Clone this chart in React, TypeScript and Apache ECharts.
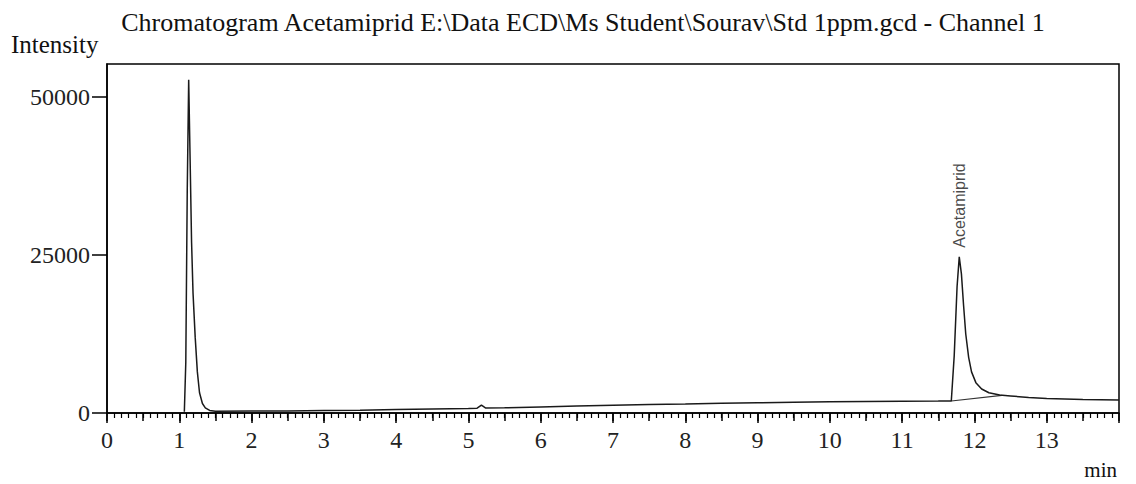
import React, { useEffect, useRef } from "react";
import * as echarts from "echarts";

const titleText = "Chromatogram Acetamiprid E:\\Data ECD\\Ms Student\\Sourav\\Std 1ppm.gcd - Channel 1";
const yAxisName = "Intensity";
const xAxisName = "min";

const timeMin = [
  1.07, 1.09, 1.11, 1.13, 1.15, 1.17, 1.19, 1.22, 1.25, 1.28, 1.32, 1.36, 1.42, 1.5,
  2.0, 2.5, 3.0, 3.5, 4.0, 4.5, 5.0, 5.12, 5.18, 5.24, 5.5, 6.0, 6.5, 7.0, 7.5, 8.0,
  8.5, 9.0, 9.5, 10.0, 10.5, 11.0, 11.5, 11.68, 11.72, 11.76, 11.79, 11.82, 11.85,
  11.88, 11.92, 11.96, 12.02, 12.1, 12.2, 12.35, 12.5, 12.75, 13.0, 13.5, 14.0,
];
const intensity = [
  200, 8000, 35000, 52700, 40000, 27000, 19000, 12000, 6500, 3200, 1500, 800, 400, 280,
  300, 330, 380, 450, 560, 650, 720, 760, 1250, 790, 820, 960, 1100, 1240, 1340, 1430,
  1530, 1620, 1700, 1760, 1810, 1850, 1880, 1900, 9000, 20000, 24700, 22000, 17000,
  12500, 8800, 6500, 4800, 3800, 3200, 2850, 2700, 2450, 2300, 2150, 2050,
];

const baselineTime = [11.68, 12.38];
const baselineIntensity = [1900, 2800];

const peakName = "Acetamiprid";
const peakTime = 11.79;

const xMin = 0;
const xMax = 14;
const xMajorStep = 1;
const xMediumStep = 0.5;
const yMin = 0;
const yMax = 55200;
const yStep = 25000;

export default function App() {
  const ref = useRef<HTMLDivElement>(null);
  useEffect(() => {
    if (!ref.current) return;
    const chart = echarts.init(ref.current, undefined, { renderer: "svg" });
    const serif = "Times New Roman, Liberation Serif, DejaVu Serif, serif";
    const trace = timeMin.map((t, i) => [t, intensity[i]]);
    const baseline = baselineTime.map((t, i) => [t, baselineIntensity[i]]);
    const peakIdx = timeMin.indexOf(peakTime);
    const peakPoint = [[peakTime, intensity[peakIdx]]];

    chart.setOption({
      animation: false,
      backgroundColor: "#fff",
      grid: {
        left: 107,
        top: 64,
        right: 17,
        bottom: 71,
        show: true,
        borderColor: "#000",
        borderWidth: 1.5,
        backgroundColor: "transparent",
      },
      graphic: [
        {
          type: "text",
          x: 583,
          y: 22,
          style: {
            text: titleText,
            fontFamily: serif,
            fontSize: 26,
            fill: "#111",
            align: "center",
            verticalAlign: "middle",
          },
        },
        {
          type: "text",
          x: 11,
          y: 44,
          style: {
            text: yAxisName,
            fontFamily: serif,
            fontSize: 25,
            fill: "#111",
            align: "left",
            verticalAlign: "middle",
          },
        },
        {
          type: "text",
          x: 1117,
          y: 470,
          style: {
            text: xAxisName,
            fontFamily: serif,
            fontSize: 21,
            fill: "#111",
            align: "right",
            verticalAlign: "middle",
          },
        },
      ],
      xAxis: [
        {
          type: "value",
          min: xMin,
          max: xMax,
          interval: xMajorStep,
          position: "bottom",
          axisLine: { show: true, onZero: false, lineStyle: { color: "#000", width: 1.5 } },
          axisTick: { show: true, inside: false, length: 10, lineStyle: { color: "#000", width: 1.5 } },
          minorTick: { show: true, splitNumber: 10, length: 5, lineStyle: { color: "#000", width: 1.2 } },
          splitLine: { show: false },
          axisLabel: {
            show: true,
            margin: 15,
            fontFamily: serif,
            fontSize: 24,
            color: "#222",
            showMaxLabel: false,
          },
        },
        {
          type: "value",
          min: xMin,
          max: xMax,
          interval: xMediumStep,
          position: "bottom",
          axisLine: { show: false },
          axisTick: { show: true, inside: false, length: 8, lineStyle: { color: "#000", width: 1.5 } },
          splitLine: { show: false },
          axisLabel: { show: false },
        },
      ],
      yAxis: {
        type: "value",
        min: yMin,
        max: yMax,
        interval: yStep,
        axisLine: { show: true, onZero: false, lineStyle: { color: "#000", width: 1.5 } },
        axisTick: { show: true, inside: false, length: 15, lineStyle: { color: "#000", width: 1.5 } },
        splitLine: { show: false },
        axisLabel: {
          show: true,
          margin: 17,
          fontFamily: serif,
          fontSize: 24,
          color: "#222",
          showMaxLabel: false,
          formatter: (v: number) => String(v),
        },
      },
      series: [
        {
          type: "line",
          xAxisIndex: 0,
          data: trace,
          showSymbol: false,
          symbol: "none",
          lineStyle: { color: "#1a1a1a", width: 1.5 },
          z: 3,
        },
        {
          type: "line",
          xAxisIndex: 0,
          data: baseline,
          showSymbol: false,
          symbol: "none",
          lineStyle: { color: "#333", width: 1.2 },
          z: 2,
        },
        {
          type: "scatter",
          xAxisIndex: 0,
          data: peakPoint,
          symbol: "circle",
          symbolSize: 0.1,
          silent: true,
          itemStyle: { color: "#222" },
          label: {
            show: true,
            formatter: peakName,
            position: "top",
            rotate: 90,
            align: "left",
            verticalAlign: "middle",
            distance: 9,
            fontFamily: "Liberation Sans",
            fontSize: 16,
            color: "#1a1a1a",
          },
          z: 4,
        },
      ],
    });
    return () => chart.dispose();
  }, []);
  return (
    <div
      ref={ref}
      style={{ position: "fixed", left: 0, top: 0, width: 1136, height: 484, background: "#fff" }}
    />
  );
}
